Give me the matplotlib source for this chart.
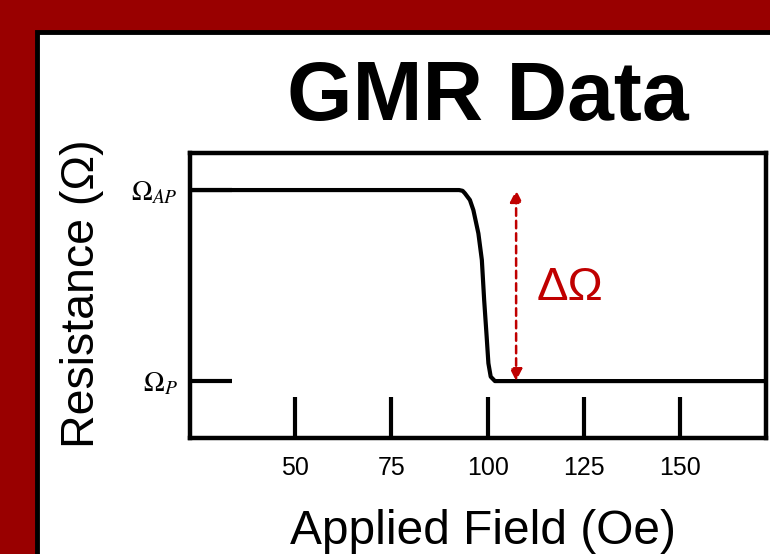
import matplotlib
matplotlib.use("Agg")
import matplotlib.pyplot as plt
from matplotlib.patches import Rectangle

# switching curve (resistance scaled: 0 = parallel, 1 = antiparallel)
field = [22.7, 40, 60, 80, 90, 92.6, 93.5, 94.1, 95.4, 96.3, 97.6, 98.5, 99.1, 99.75, 100.2, 100.8, 101.9, 103, 120, 140, 160, 172.3]
resistance = [1.0, 1.0, 1.0, 1.0, 1.0, 1.0, 0.996, 0.983, 0.948, 0.895, 0.773, 0.634, 0.424, 0.232, 0.093, 0.023, 0.0, 0.0, 0.0, 0.0, 0.0, 0.0]

xticks = [50, 75, 100, 125, 150]
yticks = [0, 1]
ytick_labels = [r"$\Omega_P$", r"$\Omega_{AP}$"]

delta_x = 107.4
red = "#c00000"

plt.rcParams["font.family"] = ["Liberation Sans", "DejaVu Sans"]
plt.rcParams["mathtext.fontset"] = "stix"

fig = plt.figure(figsize=(7.7, 5.54), dpi=100)
fig.patch.set_facecolor("#990000")

# white slide panel with black edge
panel = Rectangle((37 / 770, -0.1), 1.2, 1 - 32 / 554 + 0.1, transform=fig.transFigure,
                  facecolor="white", edgecolor="black", linewidth=3.5, zorder=-1)
fig.add_artist(panel)

ax = fig.add_axes([190 / 770, 1 - 438 / 554, 576 / 770, 285 / 554])
ax.plot(field, resistance, color="black", lw=3, solid_capstyle="round", solid_joinstyle="round")

ax.set_xlim(22.7, 172.3)
ax.set_ylim(-0.298, 1.194)
ax.set_xticks(xticks)
ax.set_xticklabels([str(t) for t in xticks])
ax.set_yticks(yticks)
ax.set_yticklabels(ytick_labels)
ax.tick_params(axis="x", direction="in", length=29.5, width=3, pad=13, labelsize=18)
ax.tick_params(axis="y", direction="in", length=30, width=3, pad=9, labelsize=20)
for s in ax.spines.values():
    s.set_linewidth(3.2)

ax.annotate("", xy=(delta_x, 1.0), xytext=(delta_x, 0.0),
            arrowprops=dict(arrowstyle="<|-|>", linestyle=(0, (3, 2)), color=red,
                            lw=1.8, mutation_scale=18, shrinkA=0, shrinkB=0))
ax.text(112.8, 0.487, "ΔΩ", color=red, fontsize=34, ha="left", va="center")

fig.text(488 / 770, 1 - 120 / 554, "GMR Data", fontsize=60.5, fontweight="bold",
         ha="center", va="baseline")
fig.text(483 / 770, 1 - 531 / 554, "Applied Field (Oe)", fontsize=34.5, ha="center", va="center")
fig.text(82 / 770, 1 - 294 / 554, "Resistance (Ω)", fontsize=33.5, rotation=90,
         ha="center", va="center")

fig.savefig("out.png", dpi=100, facecolor=fig.get_facecolor())
